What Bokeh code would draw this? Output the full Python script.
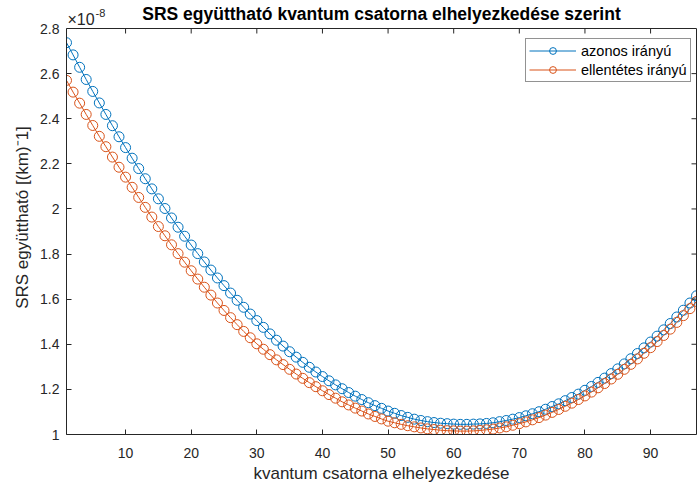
from bokeh.plotting import figure
from bokeh.models import Range1d, LinearAxis, FixedTicker, NumeralTickFormatter, Label, Legend
from bokeh.embed import file_html
from bokeh.resources import INLINE

# channel position 1..97
channel = list(range(1, 98))

# SRS coefficient, in units of 1e-8 (km)^-1
azonos = [
    2.737, 2.683, 2.628, 2.574, 2.521, 2.470, 2.419, 2.369, 2.320, 2.272,
    2.225, 2.179, 2.134, 2.089, 2.045, 2.002, 1.960, 1.919, 1.879, 1.840,
    1.802, 1.765, 1.729, 1.694, 1.660, 1.627, 1.595, 1.564, 1.534, 1.505,
    1.475, 1.446, 1.418, 1.392, 1.367, 1.343, 1.320, 1.298, 1.277, 1.257,
    1.238, 1.220, 1.203, 1.186, 1.170, 1.155, 1.141, 1.128, 1.116, 1.104,
    1.094, 1.084, 1.076, 1.068, 1.062, 1.057, 1.053, 1.050, 1.048, 1.046,
    1.045, 1.045, 1.046, 1.047, 1.049, 1.052, 1.057, 1.062, 1.068, 1.075,
    1.083, 1.092, 1.101, 1.112, 1.124, 1.136, 1.150, 1.164, 1.179, 1.196,
    1.213, 1.231, 1.250, 1.270, 1.291, 1.313, 1.336, 1.359, 1.384, 1.410,
    1.436, 1.464, 1.492, 1.521, 1.551, 1.583, 1.615,
]
ellentetes = [
    2.570, 2.518, 2.469, 2.419, 2.370, 2.322, 2.276, 2.230, 2.185, 2.141,
    2.096, 2.051, 2.007, 1.964, 1.922, 1.881, 1.841, 1.802, 1.764, 1.726,
    1.689, 1.653, 1.618, 1.583, 1.550, 1.518, 1.487, 1.457, 1.429, 1.402,
    1.378, 1.354, 1.331, 1.310, 1.289, 1.268, 1.249, 1.230, 1.212, 1.194,
    1.177, 1.161, 1.145, 1.131, 1.117, 1.104, 1.091, 1.080, 1.069, 1.059,
    1.052, 1.045, 1.039, 1.034, 1.029, 1.025, 1.022, 1.019, 1.017, 1.016,
    1.015, 1.015, 1.016, 1.018, 1.021, 1.024, 1.029, 1.034, 1.041, 1.048,
    1.056, 1.065, 1.075, 1.086, 1.098, 1.111, 1.125, 1.139, 1.155, 1.171,
    1.188, 1.207, 1.226, 1.246, 1.267, 1.289, 1.311, 1.335, 1.360, 1.385,
    1.412, 1.439, 1.467, 1.497, 1.527, 1.558, 1.590,
]

x_ticks = [10, 20, 30, 40, 50, 60, 70, 80, 90]
y_ticks = [1.0, 1.2, 1.4, 1.6, 1.8, 2.0, 2.2, 2.4, 2.6, 2.8]
x_min, x_max = 1, 97
y_min, y_max = 1.0, 2.8

title = "SRS együttható kvantum csatorna elhelyezkedése szerint"
x_label = "kvantum csatorna elhelyezkedése"
y_label = "SRS együttható [(km)\u207b1]"
exp_text = ["\u00d710", "-8"]
labels = ["azonos irányú", "ellentétes irányú"]
colors = ["#0072BD", "#D95319"]

FONT = "Liberation Sans"
AX = "#262626"

# layout (pixels)
W, H = 697, 489
LEFT, RIGHT, BOTTOM = 66, 1, 55
BOX_TOP = 28             # pixel row of y = 2.8 (axes box top)
FRAME_W = W - LEFT - RIGHT
FRAME_H = H - BOTTOM
px_per_y = (FRAME_H - BOX_TOP) / (y_max - y_min)
px_per_x = FRAME_W / (x_max - x_min)
y_top = y_max + BOX_TOP / px_per_y   # frame extends above the box for title texts
TICK = 5

p = figure(width=W, height=H, output_backend="svg", toolbar_location=None,
           x_range=Range1d(x_min, x_max), y_range=Range1d(y_min, y_top),
           min_border_left=LEFT, min_border_right=RIGHT, min_border_top=0,
           min_border_bottom=BOTTOM)
p.background_fill_color = "white"
p.border_fill_color = "white"
p.grid.visible = False
p.outline_line_color = None

renderers = []
for ys, c in zip([azonos, ellentetes], colors):
    l = p.line(channel, ys, line_color=c, line_width=1)
    s = p.scatter(channel, ys, marker="circle", size=10, fill_color=None,
                  line_color=c, line_width=1)
    renderers.append([l, s])

# box: top edge and inner ticks on top and right
p.segment(x0=[x_min], y0=[y_max], x1=[x_max], y1=[y_max], line_color=AX, line_width=1)
p.segment(x0=x_ticks, y0=[y_max] * len(x_ticks), x1=x_ticks,
          y1=[y_max - TICK / px_per_y] * len(x_ticks), line_color=AX, line_width=1)
p.segment(x0=[x_max] * len(y_ticks), y0=y_ticks, x1=[x_max - TICK / px_per_x] * len(y_ticks),
          y1=y_ticks, line_color=AX, line_width=1)

# legend box: left 525 px, bottom 82 px (page coords)
legend = Legend(items=[(labels[0], renderers[0]), (labels[1], renderers[1])],
                location=(525 - LEFT, FRAME_H - 82))
legend.label_text_font = FONT
legend.label_text_font_size = "14.5px"
legend.label_text_color = "black"
legend.border_line_color = AX
legend.border_line_width = 1
legend.background_fill_alpha = 1
legend.glyph_width = 47
legend.glyph_height = 17
legend.label_height = 17
legend.spacing = 2
legend.padding = 3
legend.margin = 0
legend.label_standoff = 5
p.add_layout(legend)

for ax in p.xaxis:
    ax.ticker = FixedTicker(ticks=x_ticks)
    ax.axis_label = x_label
for ax in p.yaxis:
    ax.ticker = FixedTicker(ticks=y_ticks)
    ax.formatter = NumeralTickFormatter(format="0.[0]")
    ax.axis_label = y_label
    ax.bounds = (y_min, y_max)

for ax in list(p.xaxis) + list(p.yaxis):
    ax.major_tick_in = TICK
    ax.major_tick_out = 0
    ax.minor_tick_in = 0
    ax.minor_tick_out = 0
    ax.axis_line_color = AX
    ax.major_tick_line_color = AX
    ax.major_label_text_color = AX
    ax.major_label_text_font = FONT
    ax.major_label_text_font_size = "14px"
    ax.axis_label_text_font = FONT
    ax.axis_label_text_font_size = "17px"
    ax.axis_label_text_font_style = "normal"
    ax.axis_label_text_color = AX

p.xaxis.major_label_standoff = 13
p.xaxis.axis_label_standoff = 3
p.yaxis.major_label_standoff = 7
p.yaxis.axis_label_standoff = 5

right_ax = LinearAxis(ticker=FixedTicker(ticks=[]), bounds=(y_min, y_max),
                      axis_line_color=AX, major_tick_in=0, major_tick_out=0,
                      minor_tick_in=0, minor_tick_out=0)
p.add_layout(right_ax, "right")

p.add_layout(Label(x=(x_min + x_max) / 2, y=y_max, y_offset=14.5, text=title, text_font=FONT,
                   text_font_size="17.5px", text_font_style="bold", text_color="black",
                   text_align="center", text_baseline="middle"))

# exponent "x10^-8" above the top-left corner of the box
p.add_layout(Label(x=x_min, y=y_max, x_offset=1, y_offset=9.5, text=exp_text[0], text_font=FONT,
                   text_font_size="16px", text_color=AX, text_align="left",
                   text_baseline="middle"))
p.add_layout(Label(x=x_min, y=y_max, x_offset=29, y_offset=16, text=exp_text[1], text_font=FONT,
                   text_font_size="11px", text_color=AX, text_align="left",
                   text_baseline="middle"))

open("out.html", "w").write(file_html(p, INLINE))
